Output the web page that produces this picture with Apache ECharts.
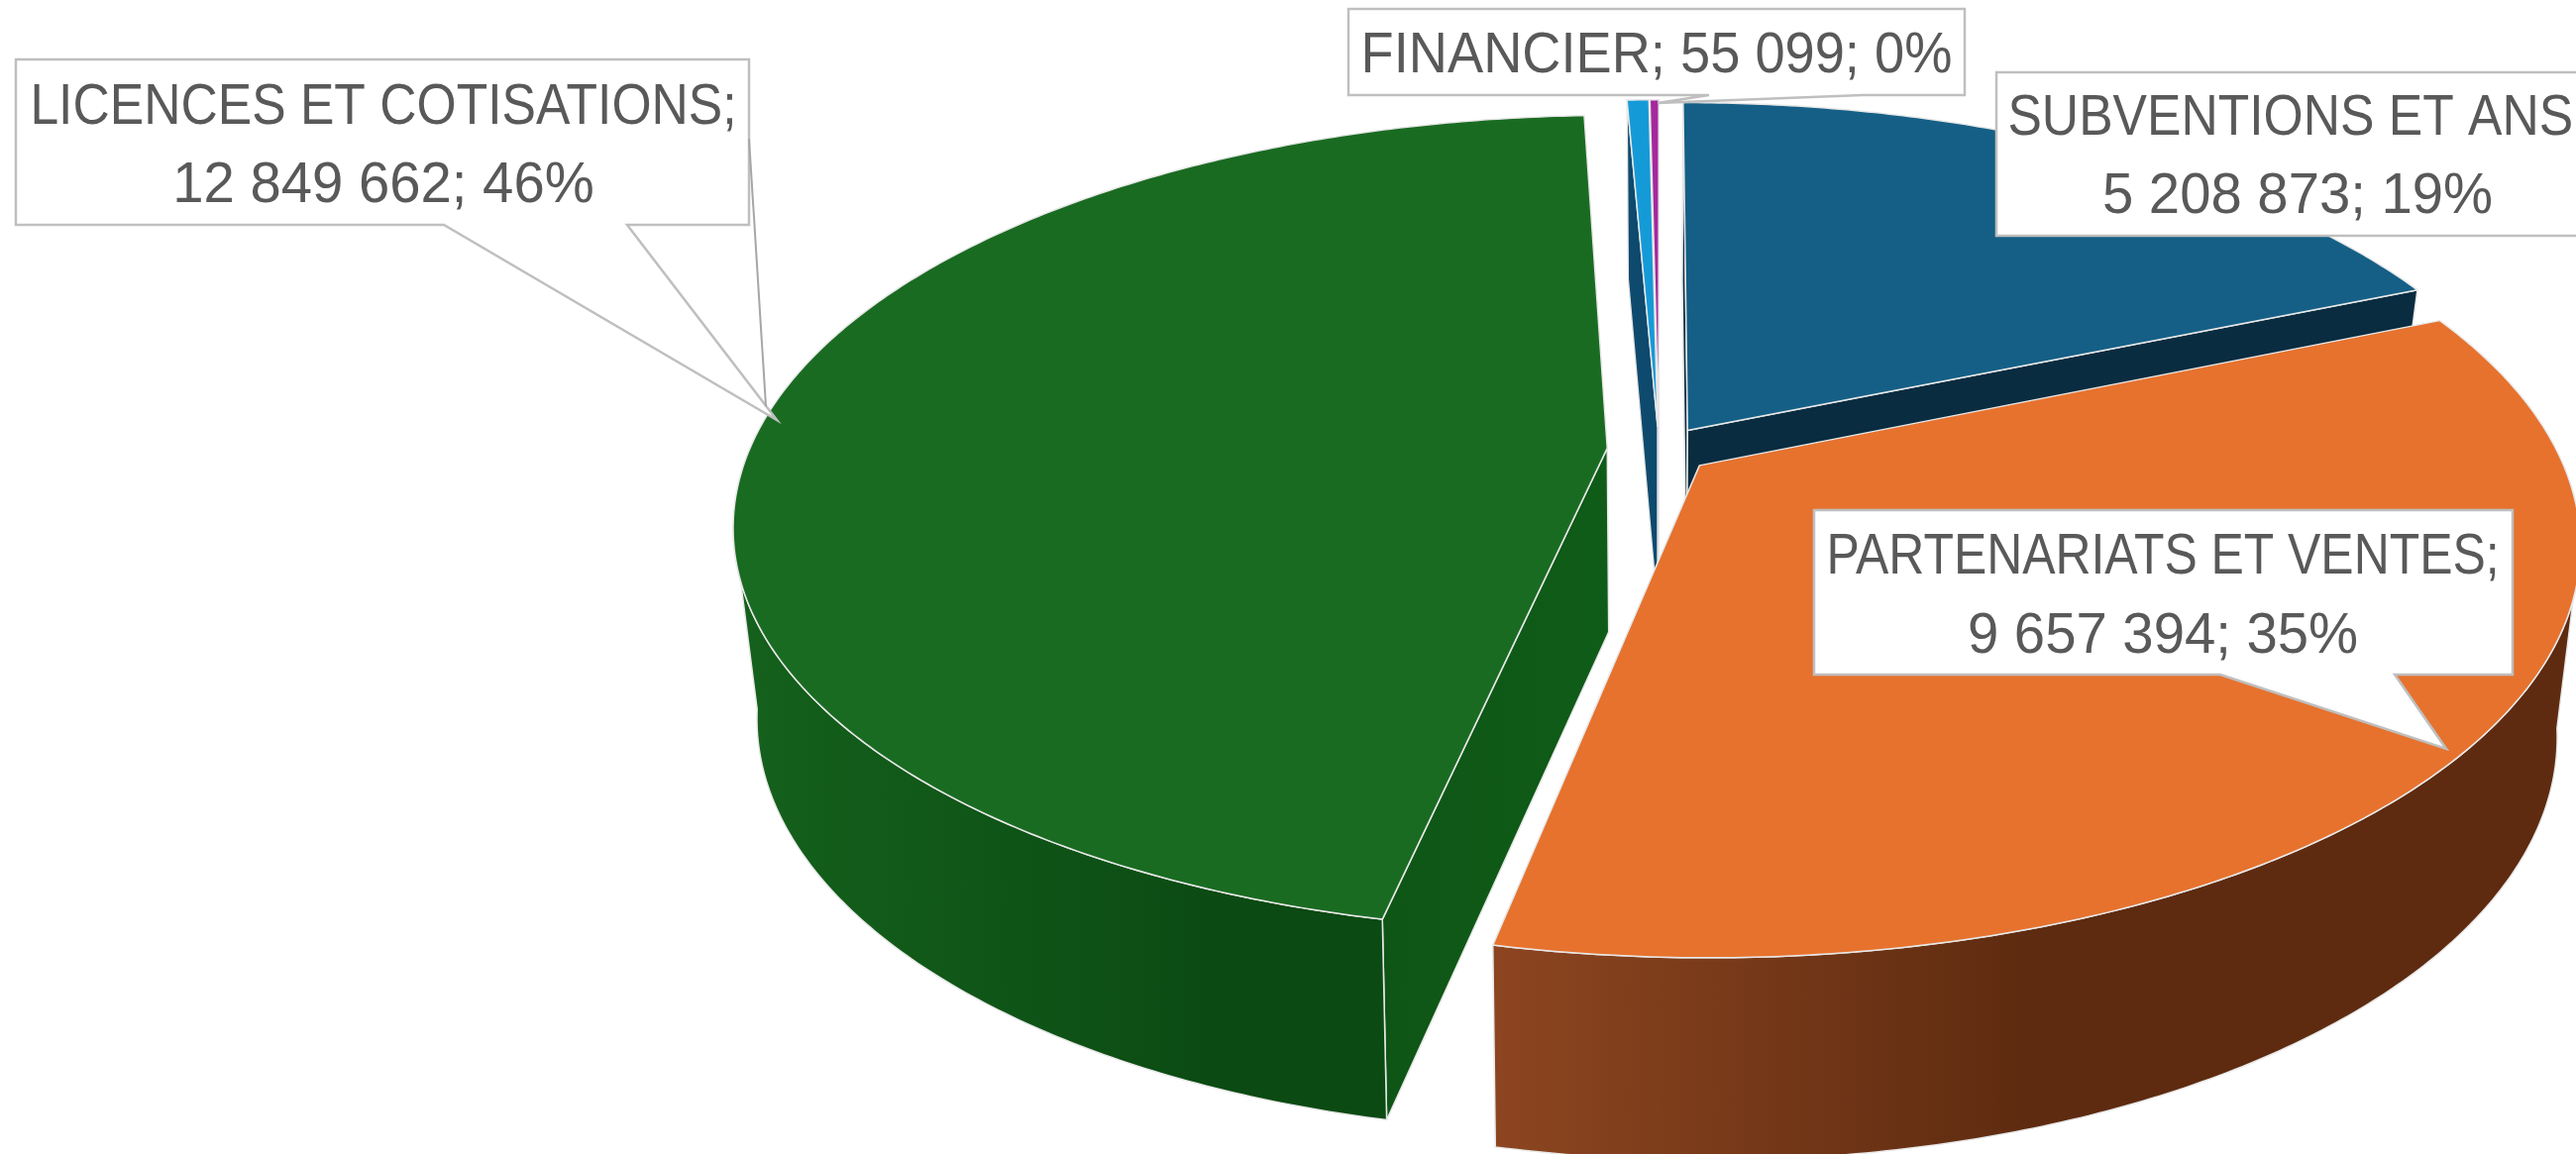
<!DOCTYPE html>
<html>
<head>
<meta charset="utf-8">
<style>html,body{margin:0;padding:0;background:#fff;overflow:hidden}#c{width:2600px;height:1165px}</style>
<script src="https://cdn.jsdelivr.net/npm/echarts@6/dist/echarts.min.js"></script>
</head>
<body>
<div id="c"></div>
<script>
// Data (clockwise from north, as in the reference)
const categories = ['SUBVENTIONS ET ANS', 'PARTENARIATS ET VENTES', 'LICENCES ET COTISATIONS', 'AUTRES', 'FINANCIER'];
const values = [5208873, 9657394, 12849662, 136000, 55099];
const percents = ['19%', '35%', '46%', '0%', '0%'];
const valueLabels = ['5 208 873', '9 657 394', '12 849 662', '136 000', '55 099'];

// Styles
const topColors = ['#155f86', '#e6722e', '#1a6b22', '#159ad8', '#a5289d'];
const wallColors = ['#0a2c40', '#5e2b10', '#0f5818', '#0e4a6e', '#5a1556'];
const drawOrder = [0, 4, 3, 2, 1];
const explode = 0.0606;

// Projection of the pie's top and bottom planes
const topPlane = { cx: 1674.5, cy: 454.4, rx: 866, a: 398.8, t: 0.1847 };
const botPlane = { cx: 1674.5, cy: 640, rx: 842, a: 408, t: 0.195 };
function project(pl, u, v) {
  const d = 1 - pl.t * v;
  return [pl.cx + pl.rx * u / d, pl.cy + pl.a * v / d];
}
// Rim angles where the side of the drum turns away from the viewer
const sideFrom = Math.acos(-topPlane.t);
const sideTo = 2 * Math.PI - sideFrom;

const total = values.reduce((a, b) => a + b, 0);
let acc = 0;
const spans = values.map(v => { const s = acc / total * 2 * Math.PI; acc += v; return [s, acc / total * 2 * Math.PI]; });

function rim(pl, off, a0, a1) {
  const n = Math.max(2, Math.ceil((a1 - a0) / 0.01));
  const pts = [];
  for (let i = 0; i <= n; i++) {
    const a = a0 + (a1 - a0) * i / n;
    pts.push(project(pl, off[0] + Math.sin(a), off[1] - Math.cos(a)));
  }
  return pts;
}
function signedArea(pts) {
  let s = 0;
  pts.forEach((p, i) => { const q = pts[(i + 1) % pts.length]; s += p[0] * q[1] - q[0] * p[1]; });
  return s;
}

function renderSlice(params) {
  const i = params.dataIndex;
  const [a0, a1] = spans[i];
  const mid = (a0 + a1) / 2;
  const off = [explode * Math.sin(mid), -explode * Math.cos(mid)];
  const topApex = project(topPlane, off[0], off[1]);
  const botApex = project(botPlane, off[0], off[1]);
  const topRim = rim(topPlane, off, a0, a1);
  const z = drawOrder.indexOf(i) * 10;
  const line = { stroke: '#e8e8e8', lineWidth: 1.5, lineJoin: 'round' };
  let sideFill = wallColors[i];
  let wallFill = wallColors[i];
  if (i === 1) {
    sideFill = { type: 'linear', global: true, x: 1510, y: 0, x2: 2050, y2: 0,
      colorStops: [{ offset: 0, color: '#8c4520' }, { offset: 1, color: '#5e2b10' }] };
  }
  if (i === 2) {
    sideFill = { type: 'linear', global: true, x: 760, y: 0, x2: 1250, y2: 0,
      colorStops: [{ offset: 0, color: '#14601c' }, { offset: 1, color: '#0b4a13' }] };
    wallFill = { type: 'linear', global: true, x: 1400, y: 0, x2: 1620, y2: 0,
      colorStops: [{ offset: 0, color: '#0f5616' }, { offset: 1, color: '#0f5c18' }] };
  }
  const poly = (points, fill, dz) => ({
    type: 'polygon', z2: z + dz, shape: { points },
    style: Object.assign({ fill }, line)
  });
  const children = [];
  // radial walls, only when they face the viewer
  const startWall = [topApex, topRim[0], project(botPlane, off[0] + Math.sin(a0), off[1] - Math.cos(a0)), botApex];
  const endWall = [topApex, topRim[topRim.length - 1], project(botPlane, off[0] + Math.sin(a1), off[1] - Math.cos(a1)), botApex];
  if (signedArea(startWall) < 0) children.push(poly(startWall, wallFill, 0));
  if (signedArea(endWall) > 0) children.push(poly(endWall, wallFill, 1));
  // visible part of the outer rim
  const s0 = Math.max(a0, sideFrom), s1 = Math.min(a1, sideTo);
  if (s1 > s0) {
    const t = rim(topPlane, off, s0, s1);
    const b = rim(botPlane, off, s0, s1);
    children.push(poly(t.concat(b.reverse()), sideFill, 2));
  }
  children.push(poly([topApex].concat(topRim), topColors[i], 3));
  return { type: 'group', children };
}

// Callouts
const labelFont = '58px "Liberation Sans", sans-serif';
const labelColor = '#595959';
const borderColor = '#bfbfbf';
const callouts = [
  { idx: 2, shape: [[16, 60], [756, 60], [756, 227], [633, 227], [784, 424], [448, 227], [16, 227]],
    x: 387, y1: 109, y2: 188, s1: 0.89, s2: 0.97 },
  { idx: 4, shape: [[1361, 9], [1983, 9], [1983, 96], [1880, 96], [1673, 104], [1725, 96], [1361, 96]],
    x: 1672, y1: 57, s1: 0.935, oneLine: true },
  { idx: 0, shape: [[2015, 73], [2640, 73], [2640, 238], [2015, 238]],
    x: 2319, y1: 120, y2: 199, s1: 0.89, s2: 0.97 },
  { idx: 1, shape: [[1831, 515], [2536, 515], [2536, 681], [2417, 681], [2469, 756], [2241, 681], [1831, 681]],
    x: 2183, y1: 563, y2: 643, s1: 0.86, s2: 0.97 }
];
const graphics = [];
function textEl(str, x, y, sx) {
  return { type: 'text', z: 101, x, y, scaleX: sx,
    style: { text: str, fill: labelColor, font: labelFont, textAlign: 'center', textVerticalAlign: 'middle' } };
}
callouts.forEach(c => {
  graphics.push({ type: 'polygon', z: 100, shape: { points: c.shape }, style: { fill: '#fff', stroke: borderColor, lineWidth: 2.5 } });
  const name = categories[c.idx];
  const second = valueLabels[c.idx] + '; ' + percents[c.idx];
  if (c.oneLine) {
    graphics.push(textEl(name + '; ' + second, c.x, c.y1, c.s1));
  } else {
    graphics.push(textEl(name + ';', c.x, c.y1, c.s1));
    graphics.push(textEl(second, c.x, c.y2, c.s2));
  }
});
// extra leader line of the LICENCES callout
graphics.push({ type: 'polyline', z: 100, shape: { points: [[756, 140], [773, 410]] }, style: { stroke: '#a6a6a6', lineWidth: 2, fill: 'none' } });

const chart = echarts.init(document.getElementById('c'), null, { width: 2600, height: 1165 });
chart.setOption({
  animation: false,
  backgroundColor: '#fff',
  graphic: graphics,
  series: [{
    type: 'custom',
    coordinateSystem: 'none',
    renderItem: renderSlice,
    data: values.map((v, i) => ({ name: categories[i], value: v }))
  }]
});
</script>
</body>
</html>
